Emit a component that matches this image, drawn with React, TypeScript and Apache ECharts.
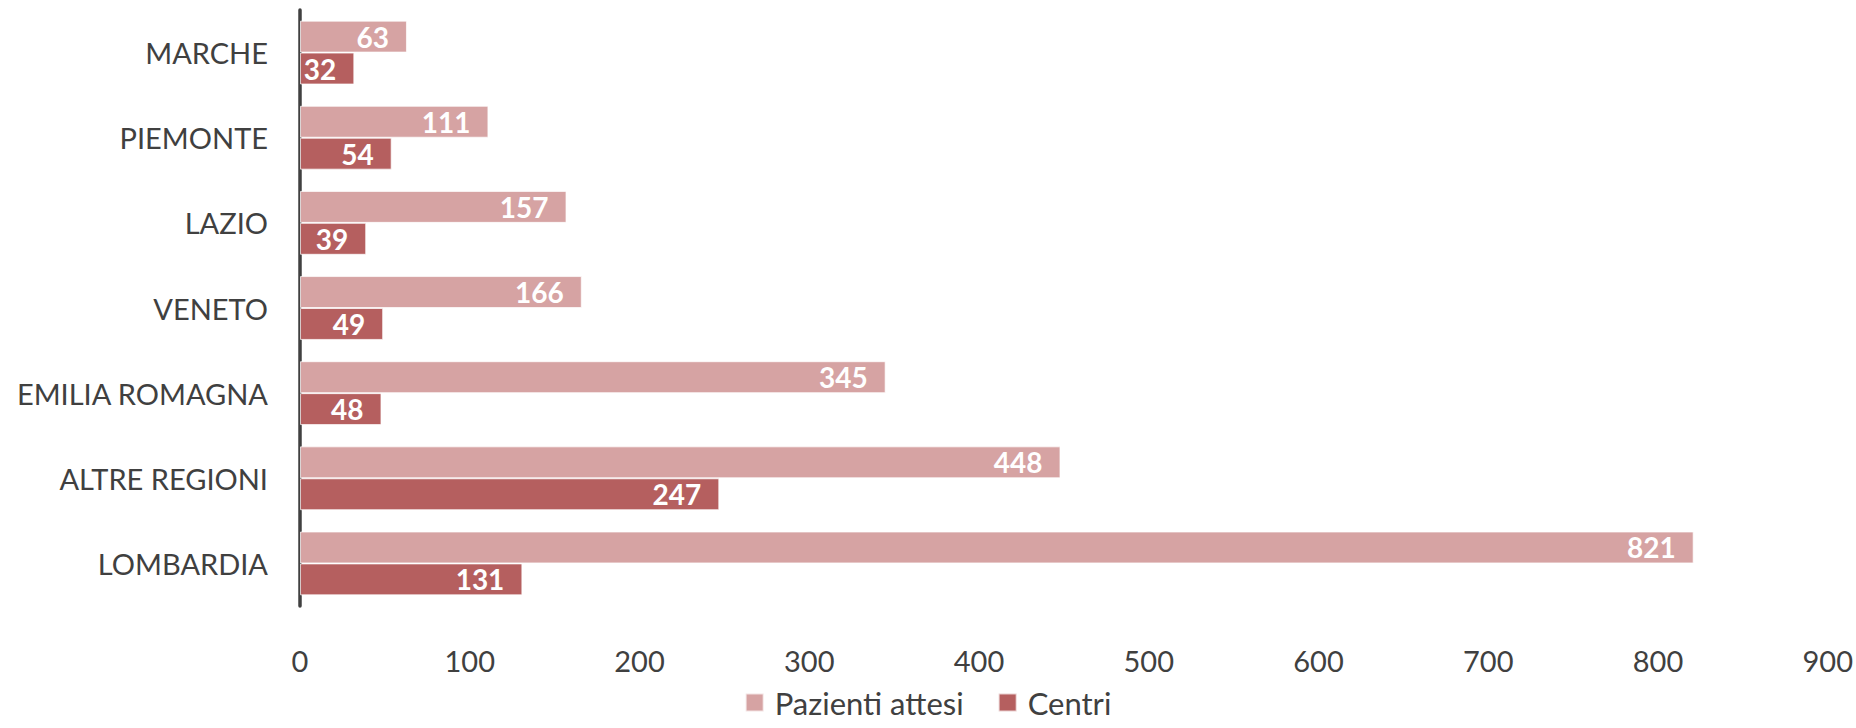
import React, { useEffect, useRef } from "react";
import * as echarts from "echarts";

const categories = ["MARCHE", "PIEMONTE", "LAZIO", "VENETO", "EMILIA ROMAGNA", "ALTRE REGIONI", "LOMBARDIA"];
const pazientiAttesi = [63, 111, 157, 166, 345, 448, 821];
const centri = [32, 54, 39, 49, 48, 247, 131];
const seriesNames = ["Pazienti attesi", "Centri"];
const colors = ["#D6A3A3", "#B55F5F"];

const FONT = "Lato, 'Noto Sans', sans-serif";

export default function App() {
  const ref = useRef<HTMLDivElement>(null);
  useEffect(() => {
    document.body.style.margin = "0";
    const chart = echarts.init(ref.current!, null, { renderer: "svg" });
    const label = {
      show: true,
      position: "insideRight",
      distance: 18,
      color: "#ffffff",
      fontFamily: FONT,
      fontWeight: "bold",
      fontSize: 28,
    };
    chart.setOption({
      animation: false,
      backgroundColor: "#ffffff",
      grid: { left: 300, right: 23, top: 10, height: 596 },
      legend: {
        data: seriesNames,
        bottom: 5,
        left: "center",
        itemWidth: 18,
        itemHeight: 18,
        itemGap: 34,
        icon: "rect",
        textStyle: { fontFamily: FONT, fontSize: 31, color: "#404040", padding: [0, 0, 0, 6] },
      },
      xAxis: {
        type: "value",
        min: 0,
        max: 900,
        interval: 100,
        axisLine: { show: false },
        axisTick: { show: false },
        splitLine: { show: false },
        axisLabel: { fontFamily: FONT, fontSize: 29, color: "#404040", margin: 40 },
      },
      yAxis: {
        type: "category",
        inverse: true,
        data: categories,
        axisTick: { show: false },
        axisLine: { show: true, lineStyle: { color: "#404040", width: 3.5 } },
        axisLabel: { fontFamily: FONT, fontSize: 29, color: "#404040", margin: 32 },
      },
      series: [
        {
          name: seriesNames[0],
          type: "bar",
          data: pazientiAttesi,
          barGap: "0%",
          barCategoryGap: "25%",
          itemStyle: { color: colors[0], borderColor: "rgba(255,255,255,0.7)", borderWidth: 1 },
          label,
        },
        {
          name: seriesNames[1],
          type: "bar",
          data: centri,
          barGap: "0%",
          barCategoryGap: "25%",
          itemStyle: { color: colors[1], borderColor: "rgba(255,255,255,0.7)", borderWidth: 1 },
          label,
        },
      ],
    });
    return () => chart.dispose();
  }, []);
  return <div ref={ref} style={{ width: 1856, height: 728 }} />;
}
